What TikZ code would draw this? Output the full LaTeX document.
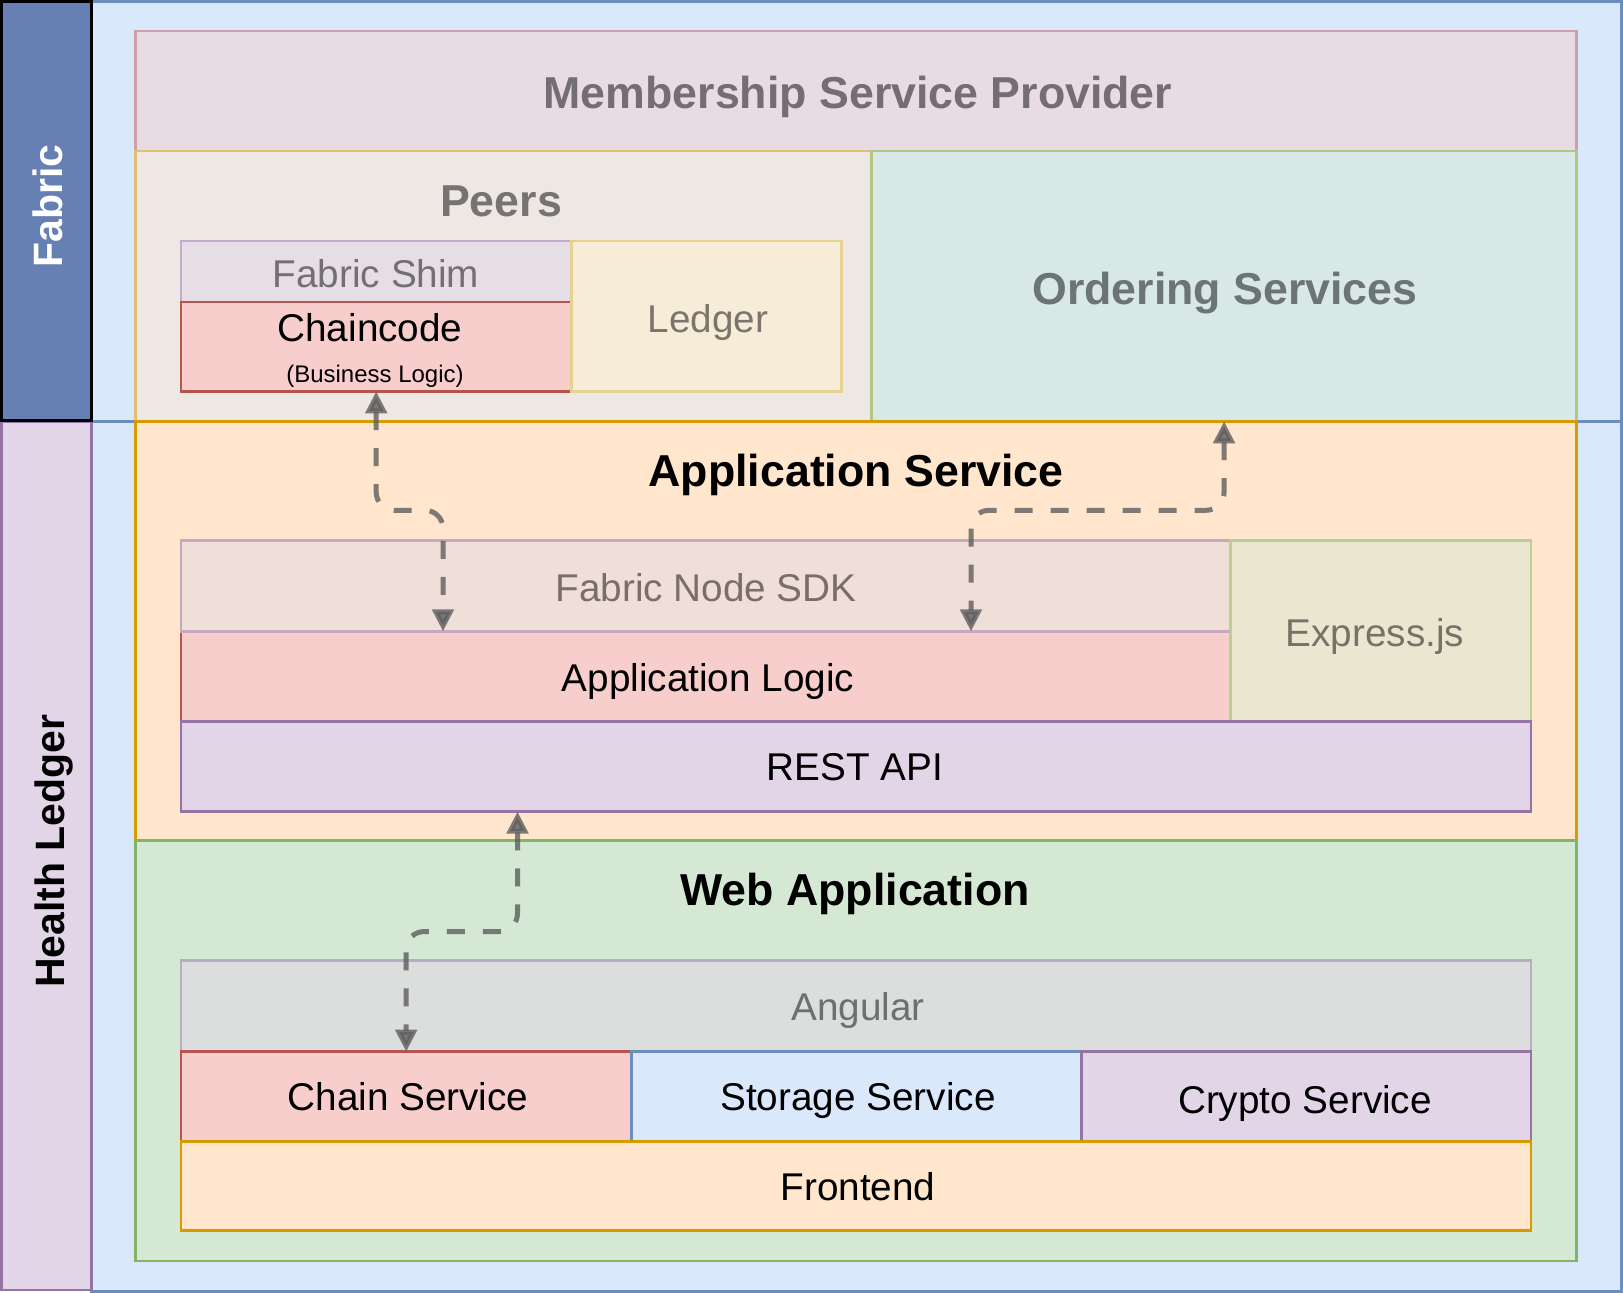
\documentclass[tikz,border=0pt]{standalone}
\usepackage{fontspec}
\setmainfont{Liberation Sans}
\usetikzlibrary{arrows.meta}
\definecolor{blueF}{HTML}{DAE8FC}\definecolor{blueD}{HTML}{6C8EBF}
\definecolor{purF}{HTML}{E1D5E7}\definecolor{purD}{HTML}{9673A6}
\definecolor{redF}{HTML}{F8CECC}\definecolor{redD}{HTML}{B85450}
\definecolor{oraF}{HTML}{FFE6CC}\definecolor{oraD}{HTML}{D79B00}
\definecolor{greF}{HTML}{D5E8D4}\definecolor{greD}{HTML}{82B366}
\definecolor{fabbar}{HTML}{6680B3}
\definecolor{mspF}{HTML}{E9DBE4}\definecolor{mspD}{HTML}{CFA0A8}\definecolor{mspT}{HTML}{746E72}
\definecolor{peerF}{HTML}{EDE8E4}\definecolor{peerD}{HTML}{E2BF74}\definecolor{peerT}{HTML}{767372}
\definecolor{ordF}{HTML}{D7E8E6}\definecolor{ordD}{HTML}{B0C884}\definecolor{ordT}{HTML}{6C7474}
\definecolor{shimF}{HTML}{E6DEE5}\definecolor{shimD}{HTML}{C4ABCB}\definecolor{shimT}{HTML}{736F72}
\definecolor{ledF}{HTML}{F6ECD8}\definecolor{ledD}{HTML}{E5D291}\definecolor{ledT}{HTML}{7B766B}
\definecolor{sdkF}{HTML}{F0DED9}\definecolor{sdkD}{HTML}{C8A8C0}\definecolor{sdkT}{HTML}{786F6D}
\definecolor{expF}{HTML}{EAE7D0}\definecolor{expD}{HTML}{B9CF96}\definecolor{expT}{HTML}{757368}
\definecolor{angF}{HTML}{DBDEDD}\definecolor{angD}{HTML}{B8ADC0}\definecolor{angT}{HTML}{6E6F6F}
\definecolor{arrowc}{HTML}{5E5E5E}
\begin{document}
\begin{tikzpicture}[x=1pt,y=-1pt,
  box/.style={draw, rectangle, line width=2.5pt, inner sep=0pt, outer sep=0pt},
  rect/.style n args={4}{at={({(#1+#3)/2},{(#2+#4)/2})}, minimum width={(#3)-(#1)}, minimum height={(#4)-(#2)}},
  tb/.style={font=\fontsize{44.7}{54}\selectfont\bfseries, text height=32pt, text depth=0pt, inner sep=0pt},
  tr/.style={font=\fontsize{38.7}{46}\selectfont, text height=27.7pt, text depth=0pt, inner sep=0pt},
  ts/.style={font=\fontsize{24}{29}\selectfont, text height=17.2pt, text depth=0pt, inner sep=0pt},
  tv/.style={rotate=90, font=\fontsize{41}{49}\selectfont\bfseries, text height=29.4pt, text depth=0pt, inner sep=0pt},
  conn/.style={draw=arrowc, line width=5pt, opacity=0.8, dash pattern=on 18pt off 18pt, rounded corners=18pt,
    {Triangle[length=22pt,width=21pt]}-{Triangle[length=22pt,width=21pt]}}
]
\useasboundingbox (0,0) rectangle (1623,1293);
% outer areas
\node[box, fill=blueF, draw=blueD, rect={91.5}{1.5}{1621.5}{421.3}] (outtop) {};
\node[box, fill=blueF, draw=blueD, rect={91.5}{421.3}{1621.5}{1291.3}] (outbot) {};
% Fabric
\node[box, fill=mspF, draw=mspD, rect={135.6}{31}{1576.5}{151}] (msp) {};
\node[tb, text=mspT] (mspt) at (858,92) {Membership Service Provider};
\node[box, fill=peerF, draw=peerD, rect={135.6}{151}{871.6}{421.3}] (peers) {};
\node[tb, text=peerT] (peerst) at (501,200) {Peers};
\node[box, fill=ordF, draw=ordD, rect={871.6}{151}{1576.5}{421.3}] (ord) {};
\node[tb, text=ordT] (ordt) at (1225,288) {Ordering Services};
\node[box, fill=shimF, draw=shimD, rect={181}{241}{571.4}{302}] (shim) {};
\node[tr, text=shimT] (shimt) at (376,274) {Fabric Shim};
\node[box, fill=redF, draw=redD, rect={181}{302}{571.4}{391.3}] (cc) {};
\node[tr, text=black] (cct) at (370,328) {Chaincode};
\node[ts, text=black] (ccs) at (375,374) {(Business Logic)};
\node[box, fill=ledF, draw=ledD, rect={571.4}{241}{841.5}{391.3}] (ledger) {};
\node[tr, text=ledT] (ledgert) at (708,319) {Ledger};
% Application service
\node[box, fill=oraF, draw=oraD, rect={135.6}{421.3}{1576.5}{840.5}] (apps) {};
\node[tb, text=black] (appst) at (856,470) {Application Service};
\node[box, fill=redF, draw=redD, rect={181}{631.4}{1230.7}{721.5}] (logic) {};
\node[tr, text=black] (logict) at (708,678) {Application Logic};
\node[box, fill=sdkF, draw=sdkD, rect={181}{540.3}{1230.7}{631.4}] (sdk) {};
\node[tr, text=sdkT] (sdkt) at (706,588) {Fabric Node SDK};
\node[box, fill=expF, draw=expD, rect={1230.7}{540.3}{1531}{721.5}] (express) {};
\node[tr, text=expT] (expresst) at (1375,633) {Express.js};
\node[box, fill=purF, draw=purD, rect={181}{721.5}{1531}{811.5}] (rest) {};
\node[tr, text=black] (restt) at (855,767) {REST API};
% Web application
\node[box, fill=greF, draw=greD, rect={135.6}{840.5}{1576.5}{1260.8}] (web) {};
\node[tb, text=black] (webt) at (855,889) {Web Application};
\node[box, fill=angF, draw=angD, rect={181}{960.6}{1531}{1051.7}] (angular) {};
\node[tr, text=angT] (angulart) at (858,1007) {Angular};
\node[box, fill=redF, draw=redD, rect={181}{1051.7}{631.4}{1141.7}] (chainsvc) {};
\node[tr, text=black] (chainsvct) at (408,1097) {Chain Service};
\node[box, fill=blueF, draw=blueD, rect={631.4}{1051.7}{1081.7}{1141.7}] (storage) {};
\node[tr, text=black] (storaget) at (858,1097) {Storage Service};
\node[box, fill=purF, draw=purD, rect={1081.7}{1051.7}{1531}{1141.7}] (crypto) {};
\node[tr, text=black] (cryptot) at (1305,1100) {Crypto Service};
\node[box, fill=oraF, draw=oraD, rect={181}{1141.7}{1531}{1230.7}] (frontend) {};
\node[tr, text=black] (frontendt) at (858,1187) {Frontend};
% side bars
\node[box, fill=purF, draw=purD, rect={1.5}{421.3}{91.5}{1290}] (hl) {};
\node[tv, text=black] (hlt) at (50,851) {Health Ledger};
\node[box, fill=fabbar, draw=black, line width=3pt, rect={1.5}{1.5}{91.5}{420.5}] (fab) {};
\node[tv, text=white] (fabt) at (48,206) {Fabric};
% connectors
\coordinate (a1e) at ([xshift=262pt]sdk.south west);
\coordinate (a2e) at ([xshift=790pt]sdk.south west);
\coordinate (a3s) at ([xshift=336.5pt]rest.south west);
\draw[conn] (cc.south) -- ++(0,119) -| (a1e);
\draw[conn] (ord.south) -- ++(0,89) -| (a2e);
\draw[conn] (a3s) -- ++(0,120) -| (chainsvc.north);
\end{tikzpicture}
\end{document}
